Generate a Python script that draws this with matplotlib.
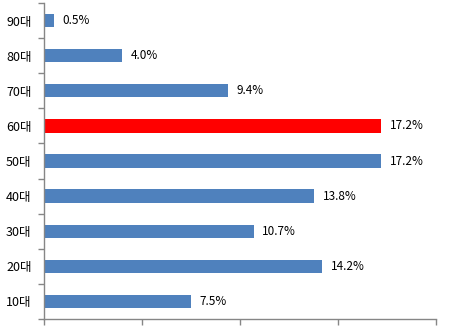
import matplotlib.pyplot as plt

plt.rcParams['font.family'] = ['Noto Sans CJK KR', 'DejaVu Sans']

# Age groups, bottom to top
ages = ['10대', '20대', '30대', '40대', '50대', '60대', '70대', '80대', '90대']
shares = [7.5, 14.2, 10.7, 13.8, 17.2, 17.2, 9.4, 4.0, 0.5]
highlight = '60대'

blue = '#4F81BD'
red = '#FF0000'
axis_gray = '#868686'

colors = [red if a == highlight else blue for a in ages]

fig = plt.figure(figsize=(4.54, 3.29), dpi=100)
ax = fig.add_axes([44 / 454, 10 / 329, 392 / 454, 316 / 329])

pos = range(len(ages))
ax.barh(pos, shares, height=0.38, color=colors)

for p, v in zip(pos, shares):
    ax.annotate(f'{v:.1f}%', (v, p), xytext=(6, 0), textcoords='offset points',
                va='center', ha='left', fontsize=8.5, color='#000000')

ax.set_xlim(0, 20)
ax.set_ylim(-0.5, len(ages) - 0.5)
ax.set_xticks([0, 5, 10, 15, 20])
ax.set_xticklabels([])
ax.set_yticks([p - 0.5 for p in range(len(ages) + 1)], minor=False)
ax.set_yticklabels([])
ax.set_yticks(list(pos), minor=True)
ax.set_yticklabels(ages, minor=True, fontsize=9)

ax.tick_params(axis='x', length=4, width=1, color=axis_gray, direction='out')
ax.tick_params(axis='y', which='major', length=4, width=1, color=axis_gray, direction='out')
ax.tick_params(axis='y', which='minor', length=0, pad=9)

for side in ['top', 'right']:
    ax.spines[side].set_visible(False)
for side in ['left', 'bottom']:
    ax.spines[side].set_color(axis_gray)
    ax.spines[side].set_linewidth(1)

fig.savefig('out.png', dpi=100)
